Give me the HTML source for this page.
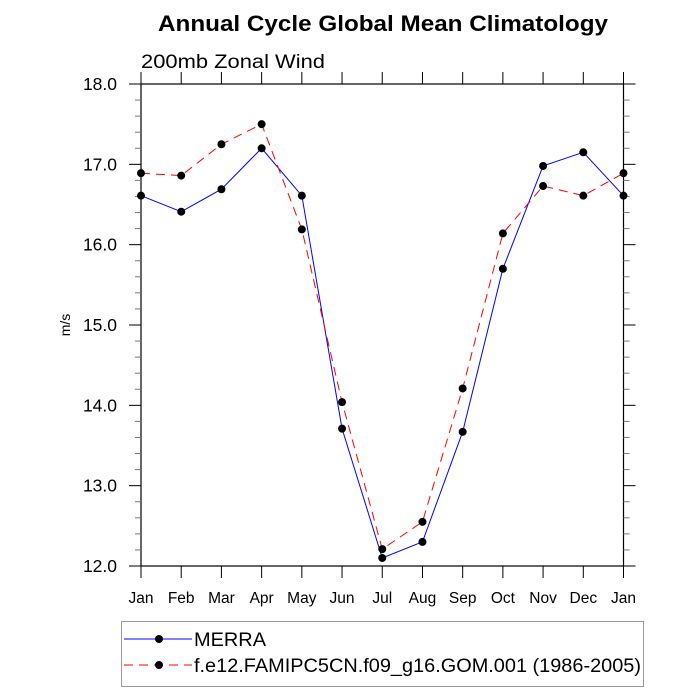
<!DOCTYPE html>
<html><head><meta charset="utf-8"><style>
html,body{margin:0;padding:0;background:#fff;}
svg{display:block;font-family:"Liberation Sans",sans-serif;}
</style></head><body>
<svg id="chart" width="700" height="700" viewBox="0 0 700 700">
<text x="158" y="31" font-size="22" font-weight="bold" textLength="450" lengthAdjust="spacingAndGlyphs">Annual Cycle Global Mean Climatology</text>
<text x="141" y="68" font-size="19" textLength="184" lengthAdjust="spacingAndGlyphs">200mb Zonal Wind</text>
<text transform="translate(70,325) rotate(-90)" font-size="14" text-anchor="middle">m/s</text>
<g id="axes"></g>
<g id="series"></g>
<g>
<rect x="121.5" y="621.5" width="522" height="65" fill="none" stroke="#999" stroke-width="1"/>
<g>
<line x1="124" y1="639" x2="192" y2="639" stroke="#0000ff" stroke-width="1"/>
<circle cx="159" cy="639" r="4" fill="#000"/>
<text x="194" y="646" font-size="19" textLength="72" lengthAdjust="spacingAndGlyphs">MERRA</text></g>
<g>
<line x1="124" y1="665" x2="192" y2="665" stroke="#ff0000" stroke-width="1" stroke-dasharray="9,6"/>
<circle cx="159" cy="665" r="4" fill="#000"/>
<text x="194" y="672" font-size="19" textLength="447" lengthAdjust="spacingAndGlyphs">f.e12.FAMIPC5CN.f09_g16.GOM.001 (1986-2005)</text></g>
</g>
</svg>
<script>
const months = ["Jan","Feb","Mar","Apr","May","Jun","Jul","Aug","Sep","Oct","Nov","Dec","Jan"];
const merra = [16.61,16.41,16.69,17.20,16.61,13.71,12.10,12.30,13.67,15.70,16.98,17.15,16.61];
const model = [16.89,16.86,17.25,17.50,16.19,14.04,12.21,12.55,14.21,16.14,16.73,16.61,16.89];
const yTicks = [12.0,13.0,14.0,15.0,16.0,17.0,18.0];

const NS="http://www.w3.org/2000/svg";
const X0=141,X1=623.5,Y0=566,Y1=84,YMIN=12,YMAX=18;
const xs=i=>X0+(X1-X0)*i/(months.length-1);
const ys=v=>Y0-(Y0-Y1)*(v-YMIN)/(YMAX-YMIN);
function mk(tag,attrs,parent){const e=document.createElementNS(NS,tag);for(const k in attrs)e.setAttribute(k,attrs[k]);parent.appendChild(e);return e;}
const axes=document.getElementById('axes');
const frame=mk('rect',{x:X0,y:Y1,width:X1-X0,height:Y0-Y1,fill:'none',stroke:'#000','stroke-width':1.2},axes);


months.forEach((m,i)=>{
  const x=xs(i);
  mk('line',{x1:x,y1:Y0,x2:x,y2:Y0+12,stroke:'#000'},axes);
  mk('line',{x1:x,y1:Y1,x2:x,y2:Y1-12,stroke:'#000'},axes);
  const t=mk('text',{x:x,y:Y0+37,'font-size':15.5,'text-anchor':'middle'},axes);
  t.textContent=m;
  
  
});
for(let v=YMIN;v<=YMAX+1e-9;v+=0.2){
  const y=ys(v);const major=Math.abs(v-Math.round(v))<1e-6;const L=major?12:6;
  mk('line',{x1:X0,y1:y,x2:X0-L,y2:y,stroke:major?'#000':'#777'},axes);
  mk('line',{x1:X1,y1:y,x2:X1+L,y2:y,stroke:major?'#000':'#777'},axes);
}
yTicks.forEach(v=>{
  const t=mk('text',{x:X0-24,y:ys(v)+6,'font-size':17.5,'text-anchor':'end'},axes);
  t.textContent=v.toFixed(1);
  
  
});
const sg=document.getElementById('series');
function draw(vals,color,dash,name){
  const g=mk('g',{},sg);
  
  
  const pts=vals.map((v,i)=>xs(i)+','+ys(v)).join(' ');
  const a={points:pts,fill:'none',stroke:color,'stroke-width':1};
  if(dash)a['stroke-dasharray']=dash;
  mk('polyline',a,g);
  vals.forEach((v,i)=>{
    const c=mk('circle',{cx:xs(i),cy:ys(v),r:4,fill:'#000'},g);
    
    
  });
}
draw(merra,'#0000ff',null,'series-merra');
draw(model,'#ff0000','9,6','series-model');
</script>
</body></html>
